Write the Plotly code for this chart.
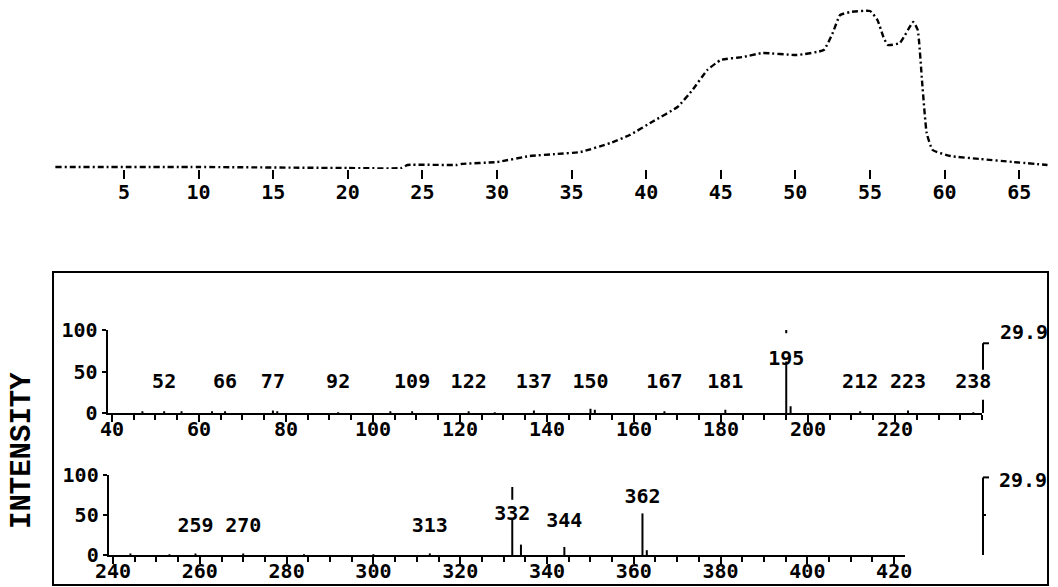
import plotly.graph_objects as go

W, H = 1058, 587

# ---------------- data ----------------
# total ion chromatogram (scan number vs. relative response)
tic_time = [0.4, 10, 20, 23.6, 24.0, 27.3, 27.6, 30.0, 32.2, 34.0, 35.6, 37.6, 38.9,
            40.5, 42.1, 43.1, 44.1, 45.0, 46.5, 47.8, 50.1, 51.9, 52.5, 53.0, 53.7,
            55.0, 55.5, 55.9, 56.2, 57.0, 57.9, 58.2, 58.5, 58.8, 59.2, 60.4, 62.4,
            64.6, 66.9]
tic_resp = [0, 0, -1, -1, 2, 2, 3, 5, 11, 13, 15, 24, 32, 46, 60, 77, 97, 107, 110,
            114, 112, 117, 134, 152, 155, 156, 147, 130, 122, 124, 145, 137, 84, 34,
            17, 11, 8, 5, 2]
tic_ticks = [5, 10, 15, 20, 25, 30, 35, 40, 45, 50, 55, 60, 65]

# mass spectrum, m/z 40-240
ms1_mz = [47, 52, 56, 63, 66, 77, 78, 92, 104, 109, 122, 128, 137, 150, 151, 167,
          181, 195, 196, 212, 223, 238]
ms1_int = [2, 2, 2, 2, 2, 3, 2, 1, 2, 2, 2, 1, 3, 5, 4, 2, 4, 100, 8, 2, 3, 1]
ms1_labels = [52, 66, 77, 92, 109, 122, 137, 150, 167, 181, 195, 212, 223, 238]
ms1_ticks = [40, 60, 80, 100, 120, 140, 160, 180, 200, 220]

# mass spectrum, m/z 240-420
ms2_mz = [244, 253, 259, 270, 284, 300, 313, 332, 334, 344, 362, 363]
ms2_int = [2, 1, 2, 2, 1, 1, 2, 85, 13, 10, 52, 6]
ms2_labels = [259, 270, 313, 332, 344, 362]
ms2_ticks = [240, 260, 280, 300, 320, 340, 360, 380, 400, 420]

intensity_ticks = [0, 50, 100]
scale_text = "29.9"

# ---------------- style / layout ----------------
FONT_NUM = dict(family="DejaVu Sans Mono", size=20, color="black", weight="bold")
BREAKS = {195: (62, 96), 332: (46, 69)}          # peak line interrupted by its label
LABEL_ROW = {1: 36, 2: 35}
LABEL_Y = {195: 64, 332: 50, 344: 41, 362: 71}


def px_x(p):
    return p / W


def px_y(p):
    return 1 - p / H


def stick_xy(mz, inten):
    xs, ys = [], []
    for m, v in zip(mz, inten):
        if m in BREAKS:
            lo, hi = BREAKS[m]
            xs += [m, m, None, m, m, None]
            ys += [0, lo, None, hi, v, None]
        else:
            xs += [m, m, None]
            ys += [0, v, None]
    return xs, ys


fig = go.Figure()

# chromatogram
fig.add_trace(go.Scatter(x=tic_time, y=tic_resp, mode="lines",
                         line=dict(color="black", width=2.4, dash="6px,3px,2px,3px",
                                   shape="spline", smoothing=0.4),
                         xaxis="x", yaxis="y", hoverinfo="skip"))

# spectrum 1
x1, y1 = stick_xy(ms1_mz, ms1_int)
fig.add_trace(go.Scatter(x=x1, y=y1, mode="lines", line=dict(color="black", width=2),
                         xaxis="x2", yaxis="y2", hoverinfo="skip"))
fig.add_trace(go.Scatter(x=ms1_labels, y=[LABEL_Y.get(m, LABEL_ROW[1]) for m in ms1_labels],
                         text=[str(m) for m in ms1_labels], mode="text",
                         textfont=FONT_NUM, cliponaxis=False,
                         xaxis="x2", yaxis="y2", hoverinfo="skip"))

# spectrum 2
x2, y2 = stick_xy(ms2_mz, ms2_int)
fig.add_trace(go.Scatter(x=x2, y=y2, mode="lines", line=dict(color="black", width=2),
                         xaxis="x3", yaxis="y3", hoverinfo="skip"))
fig.add_trace(go.Scatter(x=ms2_labels, y=[LABEL_Y.get(m, LABEL_ROW[2]) for m in ms2_labels],
                         text=[str(m) for m in ms2_labels], mode="text",
                         textfont=FONT_NUM, cliponaxis=False,
                         xaxis="x3", yaxis="y3", hoverinfo="skip"))

common_x = dict(showgrid=False, zeroline=False, ticks="outside", tickcolor="black",
                tickwidth=2, tickfont=FONT_NUM, fixedrange=True, automargin=False)
common_y = dict(range=[0, 100], tickvals=intensity_ticks,
                ticks="outside", ticklen=4, tickwidth=2, tickcolor="black",
                showline=True, linewidth=2, linecolor="black", showgrid=False,
                zeroline=False, tickfont=FONT_NUM, fixedrange=True, automargin=False)

layout = dict(
    width=W, height=H, margin=dict(l=0, r=0, t=0, b=0, autoexpand=False),
    paper_bgcolor="white", plot_bgcolor="white", showlegend=False,
    xaxis=dict(common_x, domain=[px_x(49.4), px_x(1052)], range=[0, 67.2],
               tickvals=tic_ticks, ticklen=9, showline=False, anchor="y",
               ticklabelstandoff=-4),
    yaxis=dict(domain=[px_y(169), px_y(7)], range=[-2, 160], visible=False,
               anchor="x", automargin=False, fixedrange=True),
    xaxis2=dict(common_x, domain=[px_x(107.6), px_x(982)], range=[39, 240],
                tickvals=ms1_ticks, ticklen=7, showline=True, linewidth=2,
                linecolor="black", anchor="y2", ticklabelstandoff=-10,
                minor=dict(dtick=5, tick0=40, ticks="outside", ticklen=5,
                           tickwidth=2, tickcolor="black")),
    yaxis2=dict(common_y, domain=[px_y(413), px_y(330)], anchor="x2"),
    xaxis3=dict(common_x, domain=[px_x(108.7), px_x(905)], range=[239, 422.5],
                tickvals=ms2_ticks, ticklen=7, showline=True, linewidth=2,
                linecolor="black", anchor="y3", ticklabelstandoff=-10,
                minor=dict(dtick=5, tick0=240, ticks="outside", ticklen=5,
                           tickwidth=2, tickcolor="black")),
    yaxis3=dict(common_y, domain=[px_y(555), px_y(475)], anchor="x3"),
)
fig.update_layout(**layout)

# frame around the spectra
shapes = [dict(type="rect", xref="paper", yref="paper", x0=px_x(53), x1=px_x(1048),
               y0=px_y(585), y1=px_y(272), line=dict(color="black", width=2))]
bx = px_x(983)
hook = px_x(6)
line_k = dict(color="black", width=2)
shapes += [
    # bracket, spectrum 1
    dict(type="line", xref="paper", yref="y2", x0=bx, x1=bx, y0=0, y1=16, line=line_k),
    dict(type="line", xref="paper", yref="y2", x0=bx, x1=bx, y0=52, y1=84, line=line_k),
    dict(type="line", xref="paper", yref="y2", x0=bx, x1=bx + hook, y0=84, y1=84, line=line_k),
    # bracket, spectrum 2
    dict(type="line", xref="paper", yref="y3", x0=bx, x1=bx, y0=-3, y1=97, line=line_k),
    dict(type="line", xref="paper", yref="y3", x0=bx, x1=bx + hook, y0=97, y1=97, line=line_k),
    dict(type="line", xref="paper", yref="y3", x0=bx, x1=bx + px_x(3), y0=50, y1=50, line=line_k),
]
fig.update_layout(shapes=shapes)

fig.add_annotation(x=px_x(998), y=97, xref="paper", yref="y2", text=scale_text,
                   showarrow=False, xanchor="left", yanchor="middle", font=FONT_NUM)
fig.add_annotation(x=px_x(997), y=94, xref="paper", yref="y3", text=scale_text,
                   showarrow=False, xanchor="left", yanchor="middle", font=FONT_NUM)
fig.add_annotation(x=px_x(22), y=px_y(451), xref="paper", yref="paper", text="INTENSITY",
                   textangle=-90, showarrow=False, xanchor="center", yanchor="middle",
                   font=dict(family="Liberation Mono", size=29, color="black", weight="bold"))

fig.write_html("out.html", config=dict(displayModeBar=False, staticPlot=True),
               post_script="document.body.style.margin='0';"
                           "document.body.style.overflow='hidden';")
